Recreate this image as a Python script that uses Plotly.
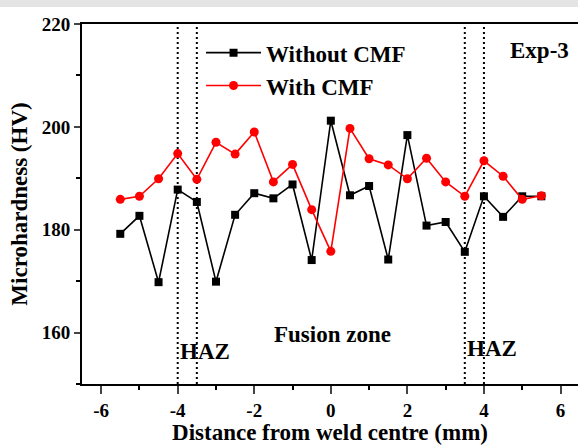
import plotly.graph_objects as go

# Measurement positions across the weld (mm)
distance = [-5.5, -5.0, -4.5, -4.0, -3.5, -3.0, -2.5, -2.0, -1.5, -1.0, -0.5, 0.0,
            0.5, 1.0, 1.5, 2.0, 2.5, 3.0, 3.5, 4.0, 4.5, 5.0, 5.5]

# Microhardness (HV)
without_cmf = [179.2, 182.7, 169.8, 187.8, 185.4, 169.9, 182.9, 187.1, 186.1, 188.8, 174.1, 201.2,
               186.7, 188.5, 174.2, 198.4, 180.8, 181.5, 175.7, 186.5, 182.5, 186.5, 186.5]
with_cmf = [185.9, 186.5, 189.9, 194.8, 189.8, 197.0, 194.7, 199.0, 189.3, 192.7, 183.9, 175.8,
            199.7, 193.8, 192.6, 189.9, 193.9, 189.3, 186.5, 193.4, 190.4, 185.9, 186.6]

# HAZ boundaries (mm)
haz_bounds = [-4.0, -3.5, 3.5, 4.0]

# Axis ticks
x_ticks = [-6, -4, -2, 0, 2, 4, 6]
x_tick_labels = ["-6", "-4", "-2", "0", "2", "4", "6"]
y_ticks = [160, 180, 200, 220]
y_tick_labels = ["160", "180", "200", "220"]

FONT = "Liberation Serif"

fig = go.Figure()

fig.add_trace(go.Scatter(
    x=distance, y=without_cmf, name="Without CMF", mode="lines+markers",
    line=dict(color="black", width=1.6),
    marker=dict(symbol="square", size=8, color="black"),
))
fig.add_trace(go.Scatter(
    x=distance, y=with_cmf, name="With CMF", mode="lines+markers",
    line=dict(color="#ff0000", width=1.6),
    marker=dict(symbol="circle", size=9, color="#ff0000"),
))

for xb in haz_bounds:
    fig.add_shape(type="line", xref="x", yref="paper", x0=xb, x1=xb, y0=0, y1=1,
                  line=dict(color="black", width=2, dash="2px,3px"), layer="below")

# faint band along the top edge
fig.add_shape(type="rect", xref="paper", yref="paper", x0=-0.2, x1=1.05,
              y0=1.0 + 17 / 360, y1=1.0 + 24 / 360,
              fillcolor="#e4e4e4", line=dict(width=0), layer="below")

txt = dict(family=FONT, size=23, color="black", weight="bold")
fig.add_annotation(x=-4.0, y=156.4, text="HAZ", showarrow=False, xanchor="left",
                   yanchor="middle", font=txt)
fig.add_annotation(x=3.5, y=156.9, text="HAZ", showarrow=False, xanchor="left",
                   yanchor="middle", font=txt)
fig.add_annotation(x=0.05, y=159.7, text="Fusion zone", showarrow=False, xanchor="center",
                   yanchor="middle", font=txt)
fig.add_annotation(x=5.44, y=214.8, text="Exp-3", showarrow=False, xanchor="center",
                   yanchor="middle", font=txt)

tick_font = dict(family=FONT, size=19, color="black", weight="bold")

fig.update_layout(
    width=578, height=445,
    margin=dict(l=82, r=0, t=24, b=61),
    paper_bgcolor="white", plot_bgcolor="white",
    font=dict(family=FONT, color="black"),
    showlegend=True,
    legend=dict(x=0.24, y=0.98, xanchor="left", yanchor="top",
                font=dict(family=FONT, size=23, color="black", weight="bold"),
                bgcolor="rgba(0,0,0,0)", tracegroupgap=0, itemwidth=55),
    xaxis=dict(
        range=[-6.5, 6.457], tickmode="array",
        tickvals=x_ticks, ticktext=["<b>%s</b>" % t for t in x_tick_labels],
        ticks="outside", ticklen=8, tickwidth=2,
        showline=True, linewidth=2, linecolor="black", mirror=True,
        showgrid=False, zeroline=False, tickfont=tick_font,
        minor=dict(dtick=1, tick0=0, ticks="outside", ticklen=4, tickwidth=2, tickcolor="black"),
        title=dict(text="Distance from weld centre (mm)", standoff=5,
                   font=dict(family=FONT, size=23, color="black", weight="bold")),
    ),
    yaxis=dict(
        range=[150, 220], tickmode="array",
        tickvals=y_ticks, ticktext=["<b>%s</b>" % t for t in y_tick_labels],
        ticks="outside", ticklen=6, tickwidth=2,
        showline=True, linewidth=2, linecolor="black", mirror=False,
        showgrid=False, zeroline=False, tickfont=tick_font,
        minor=dict(dtick=10, tick0=0, ticks="outside", ticklen=4, tickwidth=2, tickcolor="black"),
        title=dict(text="Microhardness (HV)", standoff=8,
                   font=dict(family=FONT, size=23, color="black", weight="bold")),
    ),
)

fig.write_html("out.html")
